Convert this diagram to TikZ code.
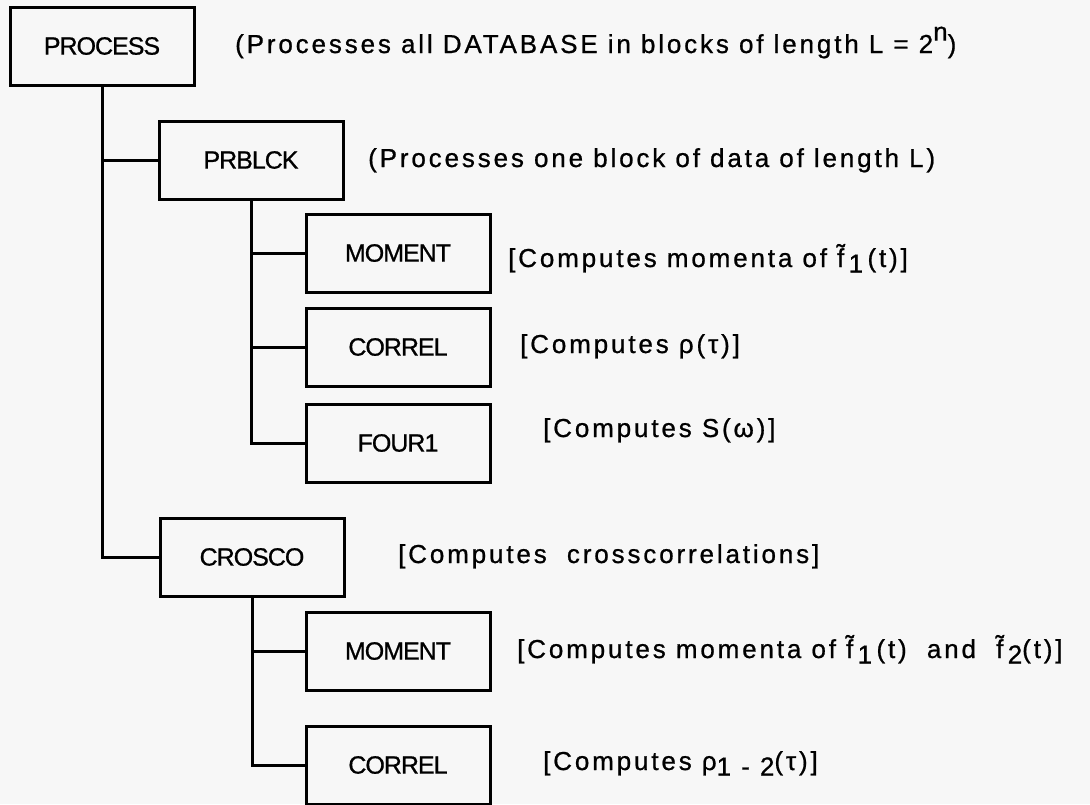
\documentclass[tikz,border=0pt]{standalone}
\usepackage{fontspec}
\setmainfont{Liberation Sans}
\newfontfamily\descfont[LetterSpace=11,FakeBold=0.8]{Liberation Sans}
\newfontfamily\boxfont[LetterSpace=-4,FakeBold=0.8]{Liberation Sans}
\definecolor{paper}{RGB}{247,247,247}
\tikzset{
	routine/.style={draw, line width=3pt, minimum width=184pt, minimum height=78pt, font=\boxfont\fontsize{25}{30}\selectfont},
	note/.style={anchor=base west, inner sep=0pt, font=\descfont\fontsize{26}{31}\selectfont},
	link/.style={line width=3pt}
}
\newcommand{\lowr}[1]{\raisebox{-0.4ex}{#1}}
\newcommand{\highr}[1]{\raisebox{0.9ex}{#1}}
\newcommand{\ftil}{\~{f}}
\begin{document}
\begin{tikzpicture}[x=1pt, y=-1pt]
	\fill[paper] (0,0) rectangle (1090,804);
	\useasboundingbox (0,0) rectangle (1090,804);

	\begin{scope}[every node/.style={routine}]
	\node (process) at (102, 46) 	{PROCESS};

	\node (prblck) at (251, 160) 	{PRBLCK};

	\node (moment) at (398, 253) 	{MOMENT};
	\node (correl) at (398, 347) 	{CORREL};
	\node (four) at (398, 443) 	{FOUR1};

	\node (crosco) at (252, 557) 	{CROSCO};

	\node (moment-2) at (398, 651) 	{MOMENT};
	\node (correl-2) at (398, 765) 	{CORREL};
	\end{scope}

	\node [note] (process-note) at (235, 53) {(Processes all DATABASE in blocks of length L = 2\highr{n})};
	\node [note] (prblck-note) at (368, 167) {(Processes one block of data of length L)};
	\node [note] (moment-note) at (508, 267) {[Computes momenta of \ftil\,\lowr{1}\,(t)]};
	\node [note] (correl-note) at (520, 353) {[Computes ρ(τ)]};
	\node [note] (four-note) at (543, 437) {[Computes S(ω)]};
	\node [note] (crosco-note) at (398, 563) {[Computes \ crosscorrelations]};
	\node [note] (moment-2-note) at (517, 658) {[Computes momenta of \ftil\,\lowr{1}\,(t) \ and \ \ftil\,\lowr{2}(t)]};
	\node [note] (correl-2-note) at (543, 770) {[Computes ρ\lowr{1 - 2}(τ)]};

	\draw [link] (process) |- (prblck);
	\draw [link] (process) |- (crosco);

	\draw [link] (prblck) |- (moment);
	\draw [link] (prblck) |- (correl);
	\draw [link] (prblck) |- (four);

	\draw [link] (crosco) |- (moment-2);
	\draw [link] (crosco) |- (correl-2);

\end{tikzpicture}
\end{document}
